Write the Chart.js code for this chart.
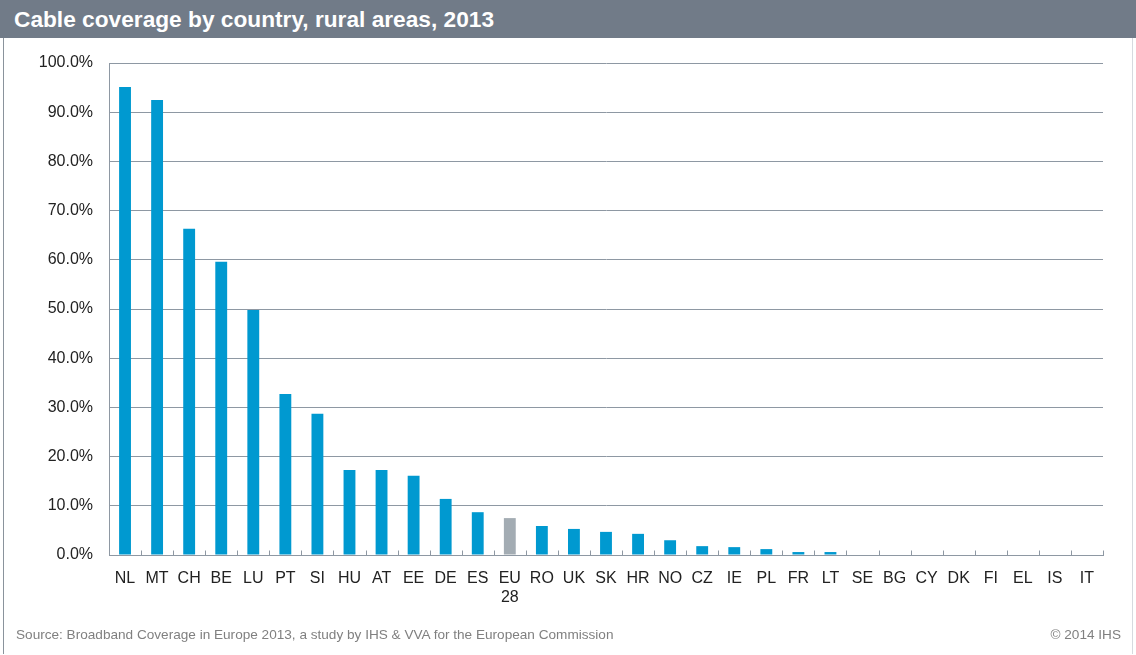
<!DOCTYPE html>
<html>
<head>
<meta charset="utf-8">
<script src="https://cdn.jsdelivr.net/npm/chart.js@4/dist/chart.umd.min.js"></script>
<style>
  body { margin: 0; background: #fff; font-family: "Liberation Sans", Arial, sans-serif; }
  #wrap { position: relative; width: 1136px; height: 655px; overflow: hidden; }
  #title {
    position: absolute; left: 0; top: 0; width: 1136px; height: 38px;
    background: #717b88; color: #fff; font-weight: bold; font-size: 22.7px;
    line-height: 38px; padding-left: 14px; box-sizing: border-box;
  }
  #frame {
    position: absolute; left: 3px; top: 38px; width: 1130px; height: 616px;
    border-left: 1px solid #8a939c; border-right: 1px solid #d6dadf;
    box-sizing: border-box;
  }
  #source { position: absolute; left: 16px; top: 627px; font-size: 13.6px; color: #808080; }
  #copy { position: absolute; right: 15px; top: 627px; font-size: 13.6px; color: #808080; }
  canvas { position: absolute; left: 0; top: 0; }
</style>
</head>
<body>
<div id="wrap">
  <div id="title">Cable coverage by country, rural areas, 2013</div>
  <div id="frame"></div>
  <canvas id="chart" width="1136" height="655"></canvas>
  <div id="source">Source: Broadband Coverage in Europe 2013, a study by IHS &amp; VVA for the European Commission</div>
  <div id="copy">© 2014 IHS</div>
</div>
<script>
// Données
const countries = ['NL','MT','CH','BE','LU','PT','SI','HU','AT','EE','DE','ES',['EU','28'],'RO','UK','SK','HR','NO','CZ','IE','PL','FR','LT','SE','BG','CY','DK','FI','EL','IS','IT'];
const coverage = [95.1,92.5,66.3,59.6,49.8,32.7,28.7,17.3,17.3,16.1,11.4,8.7,7.5,5.9,5.3,4.7,4.3,3.0,1.8,1.6,1.2,0.6,0.6,0,0,0,0,0,0,0,0];
const yTicks = [0,10,20,30,40,50,60,70,80,90,100];

const blue = '#0099d0';
const grey = '#a3acb3';
const barColors = countries.map(c => Array.isArray(c) ? grey : blue);

// petits traits entre les catégories, vers le haut
const catTicks = {
  id: 'catTicks',
  afterDatasetsDraw(chart) {
    const x = chart.scales.x, y = chart.scales.y;
    const ctx = chart.ctx;
    const half = (x.getPixelForValue(1) - x.getPixelForValue(0)) / 2;
    ctx.save();
    ctx.strokeStyle = '#8e98a3';
    ctx.lineWidth = 1;
    const base = Math.round(y.getPixelForValue(0)) + 0.5;
    for (let i = 0; i <= countries.length; i++) {
      const px = Math.round(x.getPixelForValue(i) - half) + 0.5;
      ctx.beginPath();
      ctx.moveTo(px, base);
      ctx.lineTo(px, base - 5);
      ctx.stroke();
    }
    ctx.restore();
  }
};

new Chart(document.getElementById('chart'), {
  type: 'bar',
  data: {
    labels: countries,
    datasets: [{
      data: coverage,
      backgroundColor: barColors,
      barPercentage: 0.37,
      categoryPercentage: 1
    }]
  },
  options: {
    responsive: false,
    animation: false,
    layout: { padding: { left: 9, right: 33, top: 63, bottom: 40 } },
    plugins: { legend: { display: false }, tooltip: { enabled: false } },
    scales: {
      x: {
        grid: { display: false, drawTicks: false },
        border: { color: '#8e98a3' },
        ticks: { color: '#222', font: { family: 'Liberation Sans', size: 16 }, padding: 14, maxRotation: 0, autoSkip: false },
        afterFit: s => { s.height = 60; }
      },
      y: {
        min: 0, max: 100,
        afterBuildTicks: s => { s.ticks = yTicks.map(v => ({ value: v })); },
        grid: { color: '#8e98a3', drawTicks: false },
        border: { color: '#8e98a3' },
        ticks: {
          color: '#222', font: { family: 'Liberation Sans', size: 16 }, padding: 16,
          callback: v => v.toFixed(1) + '%'
        },
        afterFit: s => { s.width = 100; }
      }
    }
  },
  plugins: [catTicks]
});
</script>
</body>
</html>
